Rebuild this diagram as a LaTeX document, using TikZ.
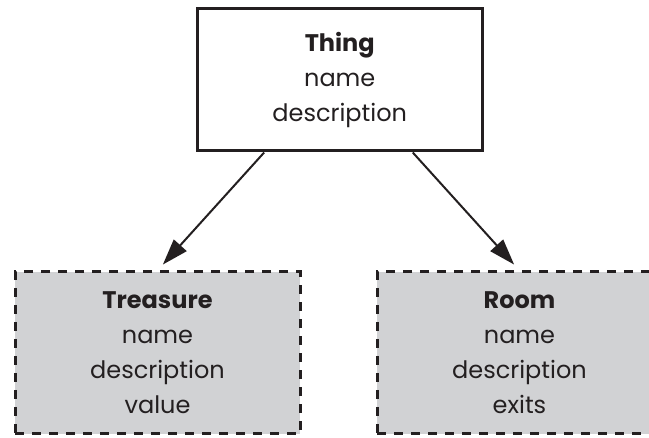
\documentclass[tikz,border=0pt]{standalone}
\usepackage{fontspec}
\setmainfont{Poppins}
\usetikzlibrary{arrows.meta,calc}
\definecolor{boxgray}{HTML}{D1D2D4}
\definecolor{ink}{HTML}{231F20}
\begin{document}
\begin{tikzpicture}[x=1pt,y=-1pt,
  classbox/.style={rectangle, draw=ink, line width=3pt, align=center, inner sep=0pt,
    font=\fontsize{24}{35}\selectfont, text=ink},
  solidbox/.style={classbox, fill=white},
  dashbox/.style={classbox, fill=boxgray, dash pattern=on 9pt off 8pt},
  headfont/.style={font=\fontsize{24}{35}\selectfont\bfseries},
  inherit/.style={draw=ink, line width=2pt, -{Triangle[length=26pt,width=17pt]}, shorten >=8pt}]
\useasboundingbox (0,0) rectangle (649,438);
\clip (0,0) rectangle (649,438);
\node[solidbox, minimum width=284.5pt, minimum height=142pt] (thing) at (339.75,80)
  {{\fontsize{24}{35}\selectfont\bfseries Thing}\\name\\description};
\node[dashbox, minimum width=285pt, minimum height=162pt] (treasure) at (157.5,353)
  {{\fontsize{24}{35}\selectfont\bfseries Treasure}\\name\\description\\value};
\node[dashbox, minimum width=285pt, minimum height=162pt] (room) at (519.5,353)
  {{\fontsize{24}{35}\selectfont\bfseries Room}\\name\\description\\exits};
\draw[inherit] ($(thing.south west)!0.237!(thing.south east)$) -- (treasure.north);
\draw[inherit] ($(thing.south west)!0.754!(thing.south east)$) -- (room.north);
\end{tikzpicture}
\end{document}
